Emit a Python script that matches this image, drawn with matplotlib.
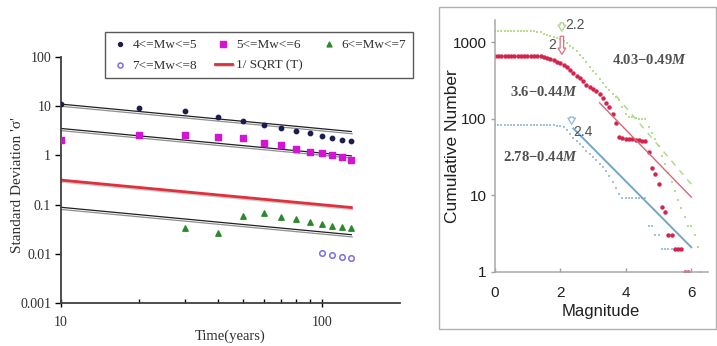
import numpy as np
import matplotlib
matplotlib.use('Agg')
import matplotlib.pyplot as plt
from matplotlib import patheffects
from matplotlib.patches import Rectangle
from matplotlib.ticker import FixedLocator, NullFormatter

plt.rcParams['mathtext.fontset'] = 'custom'
plt.rcParams['mathtext.rm'] = 'Liberation Serif:bold'
plt.rcParams['mathtext.it'] = 'Liberation Serif:bold:italic'

# ---- left panel data: standard deviation vs time ----
years = [10, 20, 30, 40, 50, 60, 70, 80, 90, 100, 110, 120, 130]
sd_m45 = [11.0, 9.2, 8.0, 6.1, 5.1, 4.2, 3.7, 3.2, 2.8, 2.5, 2.3, 2.1, 1.96]
sd_m56 = [2.1, 2.6, 2.6, 2.35, 2.3, 1.8, 1.6, 1.37, 1.19, 1.1, 1.0, 0.93, 0.81]
years_m67 = [30, 40, 50, 60, 70, 80, 90, 100, 110, 120, 130]
sd_m67 = [0.033, 0.026, 0.060, 0.068, 0.057, 0.051, 0.045, 0.041, 0.037, 0.035, 0.033]
years_m78 = [100, 110, 120, 130]
sd_m78 = [0.0103, 0.0096, 0.0088, 0.0081]
fit_span = [10, 130]
fit_coef = [35.0, 11.2, 0.28]   # c / sqrt(T) reference lines

# ---- right panel data: cumulative number vs magnitude ----
mag_g = [0.0, 0.1, 0.2, 0.3, 0.4, 0.5, 0.6, 0.7, 0.8, 0.9, 1.0, 1.1, 1.2, 1.3, 1.4, 1.5,
         1.6, 1.7, 1.8, 1.9, 2.0, 2.1, 2.2, 2.3, 2.4, 2.5, 2.6, 2.7, 2.8, 2.9, 3.0, 3.1,
         3.2, 3.3, 3.4, 3.5, 3.6, 3.7, 3.8, 3.9, 4.0, 4.1, 4.2, 4.3, 4.4, 4.5, 4.6, 4.7,
         4.8, 4.9, 5.0, 5.1, 5.2, 5.3, 5.4, 5.5, 5.6, 5.7, 5.8, 5.9, 6.0, 6.1, 6.2, 6.3]
num_g = [1410, 1410, 1410, 1410, 1410, 1410, 1410, 1410, 1410, 1410, 1410, 1405, 1400, 1380,
         1350, 1300, 1260, 1220, 1175, 1135, 1100, 1050, 980, 890, 830, 760, 690, 620, 550,
         480, 425, 380, 330, 295, 263, 235, 214, 190, 174, 141, 117, 107, 105, 102, 101, 100,
         100, 79, 66, 54, 44, 33, 26, 19.5, 15, 11.5, 8.7, 6.8, 5.2, 4, 4, 3, 2.1, 1]
mag_r = [0.0, 0.1, 0.2, 0.3, 0.4, 0.5, 0.6, 0.7, 0.8, 0.9, 1.0, 1.1, 1.2, 1.3, 1.4, 1.5,
         1.6, 1.7, 1.8, 1.9, 2.0, 2.1, 2.2, 2.3, 2.4, 2.5, 2.6, 2.7, 2.8, 2.9, 3.0, 3.1,
         3.2, 3.3, 3.4, 3.5, 3.6, 3.7, 3.8, 3.9, 4.0, 4.1, 4.2, 4.3, 4.4, 4.5, 4.6, 4.7,
         4.8, 4.9, 5.0, 5.1, 5.2, 5.3, 5.4, 5.5, 5.6, 5.7, 5.8, 5.9]
num_r = [670, 670, 670, 670, 670, 670, 670, 670, 670, 670, 670, 670, 668, 665, 660, 645,
         630, 610, 590, 560, 540, 500, 470, 430, 400, 365, 340, 310, 280, 263, 245, 230,
         210, 186, 162, 141, 115, 87, 58, 56, 55, 54, 54, 53, 53, 52, 52, 37, 23, 19, 14,
         7, 6, 3, 3, 2, 2, 2, 1, 1]
mag_b = [0.0, 0.1, 0.2, 0.3, 0.4, 0.5, 0.6, 0.7, 0.8, 0.9, 1.0, 1.1, 1.2, 1.3, 1.4, 1.5,
         1.6, 1.7, 1.8, 1.9, 2.0, 2.1, 2.2, 2.3, 2.4, 2.5, 2.6, 2.7, 2.8, 2.9, 3.0, 3.1,
         3.2, 3.3, 3.4, 3.5, 3.6, 3.7, 3.8, 3.9, 4.0, 4.1, 4.2, 4.3, 4.4, 4.5, 4.6, 4.7,
         4.8, 4.9, 5.0, 5.1, 5.2, 5.3, 5.4]
num_b = [82, 82, 82, 82, 82, 82, 82, 82, 82, 82, 82, 82, 82, 82, 82, 82, 82, 82, 82, 81,
         80, 78, 71, 63, 56, 51, 47, 43, 38, 35, 32, 29, 26, 23.5, 21, 18, 15, 12.6, 10.5,
         9.3, 9.2, 9.2, 9.2, 9.2, 9.2, 9.2, 9.2, 4, 4, 3, 3, 2, 2, 2, 2]
fit_g_m = [3.7, 6.1]
fit_g_n = [200, 12.5]
fit_r_m = [3.2, 6.0]
fit_r_n = [162, 9.5]
fit_b_m = [2.4, 6.0]
fit_b_n = [75, 2.1]

fig = plt.figure(figsize=(7.17, 3.46), dpi=100)
serif = 'Liberation Serif'
sans = 'Liberation Sans'

# ================= left panel =================
ax1 = fig.add_axes([0.085, 0.124, 0.473, 0.711])
ax1.set_xscale('log')
ax1.set_yscale('log')

shadow = [patheffects.SimpleLineShadow(offset=(0.6, -1.6), shadow_color='0.45', alpha=0.8),
          patheffects.Normal()]
T = np.array(fit_span, dtype=float)
for c in fit_coef:
    ax1.plot(T, c / np.sqrt(T), color='#202020', lw=0.9, path_effects=shadow, zorder=2)
hred, = ax1.plot(T, 1.0 / np.sqrt(T), color='#e0303c', lw=2.0, zorder=2,
                 path_effects=[patheffects.SimpleLineShadow(offset=(0.5, -1), shadow_color='0.6', alpha=0.5),
                               patheffects.Normal()], label='1/ SQRT (T)')

h45 = ax1.scatter(years, sd_m45, s=10, marker='o', color='#1c1c50', zorder=3, label='4<=Mw<=5')
h56 = ax1.scatter(years, sd_m56, s=18, marker='s', color='#d414d4', zorder=3, label='5<=Mw<=6')
h67 = ax1.scatter(years_m67, sd_m67, s=15, marker='^', color='#2a8a2a', zorder=3, label='6<=Mw<=7')
h78 = ax1.scatter(years_m78, sd_m78, s=16, marker='o', facecolors='white',
                  edgecolors='#7a70e0', linewidths=1.1, zorder=3, label='7<=Mw<=8')

ax1.set_xlim(10, 200)
ax1.set_ylim(0.001, 100)
ax1.set_xticks([10, 100])
ax1.set_xticklabels(['10', '100'])
ax1.xaxis.set_minor_locator(FixedLocator([20, 30, 40, 50, 60, 70, 80, 90]))
ax1.xaxis.set_minor_formatter(NullFormatter())
ax1.set_yticks([0.001, 0.01, 0.1, 1, 10, 100])
ax1.set_yticklabels(['0.001', '0.01', '0.1', '1', '10', '100'])
ax1.yaxis.set_minor_locator(FixedLocator([]))
ax1.tick_params(axis='x', which='major', direction='inout', length=6, width=1, pad=6)
ax1.tick_params(axis='x', which='minor', direction='in', length=3, width=1)
ax1.tick_params(axis='y', which='major', direction='out', length=4, width=1, pad=3)
for lab in ax1.get_xticklabels() + ax1.get_yticklabels():
    lab.set_fontfamily(serif)
    lab.set_fontsize(10)
    lab.set_color('#303030')
for s in ['top', 'right']:
    ax1.spines[s].set_visible(False)
for s in ['left', 'bottom']:
    ax1.spines[s].set_color('#404040')
    ax1.spines[s].set_linewidth(1.3)
ax1.set_xlabel('Time(years)', family=serif, fontsize=10.5, color='#303030', labelpad=1)
ax1.set_ylabel("Standard Deviation '\u03c3'", family=serif, fontsize=11, color='#303030')
ax1.yaxis.set_label_coords(-0.108, 0.48)

leg = ax1.legend(handles=[h45, h78, h56, hred, h67], ncol=3, loc='upper left',
                 bbox_to_anchor=(0.146, 0.9075), bbox_transform=fig.transFigure,
                 borderaxespad=0, frameon=True, fancybox=False, handlelength=1.3,
                 handletextpad=0.3, columnspacing=1.35, labelspacing=0.65, borderpad=0.5,
                 markerscale=0.9, prop={'family': serif, 'size': 9.5})
leg.get_frame().set_edgecolor('#303030')
leg.get_frame().set_linewidth(1.0)
for t in leg.get_texts():
    t.set_color('#303030')

# ================= right panel =================
fig.patches.append(Rectangle((0.612, 0.049), 0.386, 0.931, transform=fig.transFigure,
                             fill=False, edgecolor='#b0b0b0', lw=1.0))

ax2 = fig.add_axes([0.690, 0.214, 0.297, 0.728])
ax2.set_yscale('log')
ax2.plot(mag_g, num_g, ls='none', marker='s', ms=2.0, color='#b9df8e', mew=0)
ax2.plot(mag_r, num_r, ls='none', marker='o', ms=3.2, color='#d4244e', mew=0)
ax2.plot(mag_b, num_b, ls='none', marker='s', ms=2.0, color='#a0c4d8', mew=0)
ax2.plot(fit_g_m, fit_g_n, color='#b0dc88', lw=1.1, dashes=(4, 4))
ax2.plot(fit_r_m, fit_r_n, color='#d86878', lw=1.0)
ax2.plot(fit_b_m, fit_b_n, color='#74a6c6', lw=1.4)

ax2.set_xlim(0, 6.5)
ax2.set_ylim(1, 1950)
ax2.set_xticks([0, 2, 4, 6])
ax2.set_yticks([1, 10, 100, 1000])
ax2.set_yticklabels(['1', '10', '100', '1000'])
ax2.yaxis.set_minor_locator(FixedLocator([]))
ax2.tick_params(axis='both', which='major', length=3, width=1, color='#a0a0a0',
                labelsize=11, labelcolor='#202020')
ax2.tick_params(axis='x', direction='in', pad=10)
ax2.tick_params(axis='y', direction='out', pad=3)
for lab in ax2.get_xticklabels() + ax2.get_yticklabels():
    lab.set_fontfamily(sans)
for s in ['top', 'right']:
    ax2.spines[s].set_visible(False)
for s in ['left', 'bottom']:
    ax2.spines[s].set_color('#a8a8a8')
    ax2.spines[s].set_linewidth(1.1)
ax2.set_xlabel('Magnitude', family=sans, fontsize=12, color='#202020', labelpad=3)
ax2.set_ylabel('Cumulative Number', family=sans, fontsize=12.5, color='#202020')
ax2.yaxis.set_label_coords(-0.165, 0.5)

# arrows marking magnitude of completeness
arr = 'simple,head_width=0.55,head_length=0.45,tail_width=0.25'
ax2.annotate('', xy=(2.05, 1280), xytext=(2.05, 1950),
             arrowprops=dict(arrowstyle=arr, fc='white', ec='#a8d890', lw=0.9))
ax2.annotate('', xy=(2.05, 640), xytext=(2.05, 1300),
             arrowprops=dict(arrowstyle=arr, fc='white', ec='#e07080', lw=0.9))
ax2.annotate('', xy=(2.35, 78), xytext=(2.35, 115),
             arrowprops=dict(arrowstyle=arr, fc='white', ec='#90b8d8', lw=0.9))

eq_col = '#505050'
ax2.text(2.45, 1700, '2.2', family=sans, fontsize=10, color=eq_col, ha='center', va='center')
ax2.text(1.75, 920, '2', family=sans, fontsize=10, color=eq_col, ha='center', va='center')
ax2.text(2.7, 68, '2.4', family=sans, fontsize=10, color=eq_col, ha='center', va='center')
ax2.text(4.73, 590, r'$4.03{-}0.49M$', fontsize=10.5, color=eq_col, ha='center', va='center')
ax2.text(1.5, 225, r'$3.6{-}0.44M$', fontsize=10.5, color=eq_col, ha='center', va='center')
ax2.text(1.4, 32, r'$2.78{-}0.44M$', fontsize=10.5, color=eq_col, ha='center', va='center')

fig.savefig('out.png', dpi=100)
plt.close(fig)
